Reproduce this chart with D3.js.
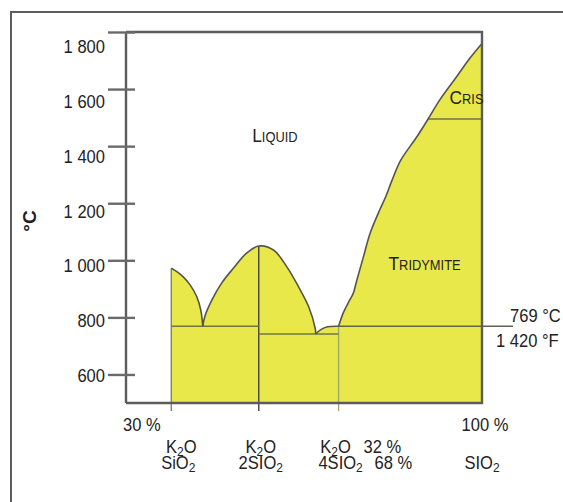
<!DOCTYPE html>
<html><head><meta charset="utf-8">
<script src="https://cdn.jsdelivr.net/npm/d3@7"></script>
<style>
html,body{margin:0;padding:0;background:#fff;}
svg{display:block;}
text{font-family:"Liberation Sans",Arial,Helvetica,sans-serif;fill:#222;}
</style></head><body>
<svg id="chart" width="563" height="502"></svg>
<script>
// ---- data -------------------------------------------------------------
// Temperature axis (°C)
const tempTicks = [600, 800, 1000, 1200, 1400, 1600, 1800];
const tempDomain = [500, 1800];
// Composition axis (wt % SiO2)
const silicaDomain = [30, 100];
const silicaEndLabels = ["30 %", "100 %"];

// Potassium silicate compounds (wt % SiO2) and their labels
const compoundSilica = [38.9, 56.1, 71.8];
const compoundTop = ["K|2|O", "K|2|O", "K|2|O"];
const compoundBottom = ["SiO|2|", "2SIO|2|", "4SIO|2|"];
const compoundPercents = ["32 %", "68 %"];

// Liquidus branches [wt % SiO2, °C]
const liquidusMeta = [[38.9, 972], [40.0, 960], [41.3, 941], [42.6, 914], [43.9, 873], [44.7, 826], [45.1, 769]];
const liquidusDi = [[45.1, 769], [45.5, 803], [46.9, 861], [48.8, 920], [51.1, 972], [53.7, 1025], [56.1, 1050],
                    [59.0, 1036], [61.6, 978], [63.9, 908], [65.9, 838], [67.2, 762], [67.3, 742]];
const liquidusTetra = [[67.3, 742], [68.3, 757], [69.6, 767], [71.8, 769]];
const liquidusSilica = [[71.8, 769], [72.7, 815], [74.0, 861], [74.7, 885], [75.4, 931], [76.7, 1013], [78.0, 1095],
                        [79.9, 1177], [81.0, 1220], [82.3, 1280], [84.0, 1350], [87.2, 1433], [89.4, 1495],
                        [91.7, 1562], [95.0, 1643], [97.6, 1708], [100, 1760]];

// Solidus / eutectic lines [from %, to %, °C]
const eutecticLines = [[38.9, 56.1, 769], [56.1, 71.8, 742], [71.8, 100, 769]];
// Tridymite -> cristobalite inversion
const inversion = [89.4, 100, 1495];
// Marked reference temperature
const refTempC = 769;
const refTempF = 1420;

// Field names
const fieldNames = [
  {big: "L", small: "IQUID", at: [54.8, 1415]},
  {big: "T", small: "RIDYMITE", at: [81.6, 966]},
  {big: "C", small: "RIS", at: [93.6, 1548]}
];

// ---- drawing ------------------------------------------------------------
const svg = d3.select("#chart");
const x = d3.scaleLinear().domain(silicaDomain).range([126, 482]);
const y = d3.scaleLinear().domain(tempDomain).range([403, 32]);
// tick labels sit on a slightly tighter spacing than the ticks themselves
const yLabel = d3.scaleLinear().domain([600, 1800]).range([375.5, 46.5]);

const squeeze = "scale(0.92,1)";
const yellow = "#e8e84a";
const frameGrey = "#5c5c5c";
const lineOnYellow = "#6f7646";

// outer border
svg.append("path").attr("d", "M11,502V12H563")
  .attr("fill", "none").attr("stroke", frameGrey).attr("stroke-width", 2);

// phase-field fill under the liquidus
const branches = [liquidusMeta, liquidusDi, liquidusTetra, liquidusSilica];
const branchLine = d3.line().x(d => x(d[0])).y(d => y(d[1])).curve(d3.curveCatmullRom.alpha(0.5));
const fillPath = `M${x(compoundSilica[0])},${y(tempDomain[0])}` +
  branches.map(b => branchLine(b).replace(/^M/, "L")).join("") +
  `L${x(silicaDomain[1])},${y(tempDomain[0])}Z`;
svg.append("path").attr("d", fillPath).attr("fill", yellow);

// compound verticals
const compoundStyle = [
  {stroke: "#7a7a6a", width: 1.3},
  {stroke: "#4c4c44", width: 1.5},
  {stroke: "#9aa86a", width: 1.3}
];
const compoundTopTemp = [972, 1050, 769];
compoundSilica.forEach((c, i) => {
  svg.append("line")
    .attr("x1", x(c)).attr("x2", x(c))
    .attr("y1", y(compoundTopTemp[i])).attr("y2", y(tempDomain[0]) + 8)
    .attr("stroke", compoundStyle[i].stroke).attr("stroke-width", compoundStyle[i].width);
});

// eutectic lines
eutecticLines.forEach(([a, b, t], i) => {
  const last = i === eutecticLines.length - 1;
  svg.append("line")
    .attr("x1", x(a)).attr("x2", last ? x(b) + 31 : x(b))
    .attr("y1", y(t)).attr("y2", y(t))
    .attr("stroke", last ? "#5f6450" : lineOnYellow)
    .attr("stroke-width", 1.4);
});
// inversion line
svg.append("line")
  .attr("x1", x(inversion[0])).attr("x2", x(inversion[1]))
  .attr("y1", y(inversion[2])).attr("y2", y(inversion[2]))
  .attr("stroke", lineOnYellow).attr("stroke-width", 1.4);

// liquidus curves
branches.forEach(b => {
  svg.append("path").attr("d", branchLine(b))
    .attr("fill", "none").attr("stroke", "#555550").attr("stroke-width", 1.6);
});

// plot frame: top, right, bottom
svg.append("path")
  .attr("d", `M${x(30)},${y(1800)}H${x(100)}V${y(500)}H${x(30)}`)
  .attr("fill", "none").attr("stroke", frameGrey).attr("stroke-width", 2.4);

// temperature axis
const nf = d3.formatLocale({decimal: ",", thousands: " ", grouping: [3], currency: ["", ""]}).format(",");
const yAxis = svg.append("g").attr("transform", `translate(${x(30)},0)`)
  .call(d3.axisLeft(y).tickValues(tempTicks).tickSize(18).tickFormat(nf));
yAxis.select(".domain").attr("stroke", frameGrey).attr("stroke-width", 2.4)
  .attr("d", `M0,${y(1800)}V${y(500)}`);
yAxis.selectAll(".tick line").attr("x1", 9).attr("x2", -18)
  .attr("stroke", "#6a6a6a").attr("stroke-width", 2.4);
yAxis.selectAll(".tick text")
  .attr("x", 0).attr("dy", null).attr("y", 0)
  .attr("transform", d => `translate(-21,${yLabel(d) - y(d) + 6}) ${squeeze}`)
  .attr("text-anchor", "end")
  .style("font-size", "18px").style("fill", "#222");

// unit label
svg.append("text")
  .attr("transform", "translate(36,221) rotate(-90)")
  .attr("text-anchor", "middle")
  .style("font-size", "19px").style("font-weight", "bold")
  .text("°C");

// helper: text with subscripted digits, parts separated by "|"
function subText(g, str) {
  const parts = str.split("|");
  parts.forEach((p, i) => {
    if (!p) return;
    const isSub = i % 2 === 1;
    g.append("tspan")
      .attr("dy", isSub ? 3 : (i > 0 ? -3 : 0))
      .style("font-size", isSub ? "13px" : "18px")
      .text(p);
  });
}

// composition axis end labels
svg.append("text")
  .attr("transform", `translate(${x(30) - 3},431) ${squeeze}`)
  .style("font-size", "18px").text(silicaEndLabels[0]);
svg.append("text")
  .attr("transform", `translate(${x(100) + 3},431) ${squeeze}`)
  .attr("text-anchor", "middle")
  .style("font-size", "18px").text(silicaEndLabels[1]);

// compound labels
const topShift = [10, 2, -3];
const botShift = [7, 2, 2];
compoundSilica.forEach((c, i) => {
  subText(svg.append("text")
    .attr("transform", `translate(${x(c) + topShift[i]},453) ${squeeze}`)
    .attr("text-anchor", "middle"), compoundTop[i]);
  subText(svg.append("text")
    .attr("transform", `translate(${x(c) + botShift[i]},469) ${squeeze}`)
    .attr("text-anchor", "middle"), compoundBottom[i]);
});
svg.append("text")
  .attr("transform", `translate(${x(compoundSilica[2]) + 25},453) ${squeeze}`)
  .style("font-size", "18px").text(compoundPercents[0]);
svg.append("text")
  .attr("transform", `translate(${x(compoundSilica[2]) + 36},469) ${squeeze}`)
  .style("font-size", "18px").text(compoundPercents[1]);
subText(svg.append("text")
  .attr("transform", `translate(${x(100)},469) ${squeeze}`)
  .attr("text-anchor", "middle"), "SIO|2|");

// reference temperature labels
svg.append("text")
  .attr("transform", `translate(${x(100) + 28},${y(refTempC) - 4}) ${squeeze}`)
  .style("font-size", "18px").text(`${refTempC} °C`);
svg.append("text")
  .attr("transform", `translate(${x(100) + 14},${y(refTempC) + 21}) ${squeeze}`)
  .style("font-size", "18px").text(`${nf(refTempF)} °F`);

// field names in small capitals
fieldNames.forEach(f => {
  const t = svg.append("text")
    .attr("transform", `translate(${x(f.at[0])},${y(f.at[1])}) ${squeeze}`);
  t.append("tspan").style("font-size", "19px").text(f.big);
  t.append("tspan").style("font-size", "14px").text(f.small);
});
</script>
</body></html>
